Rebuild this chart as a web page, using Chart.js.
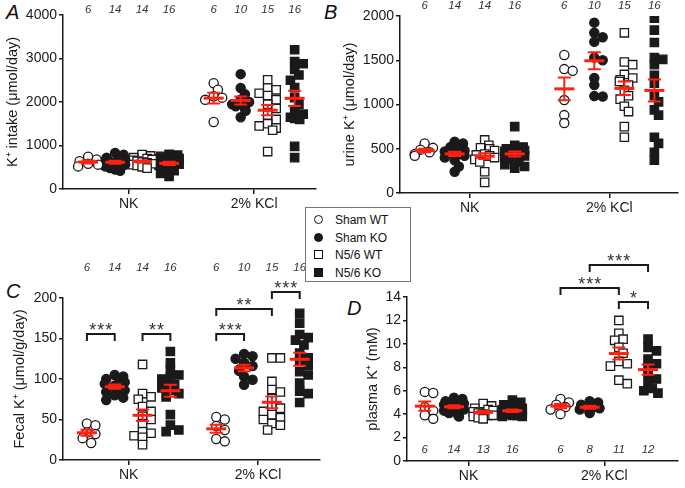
<!DOCTYPE html>
<html>
<head>
<meta charset="utf-8">
<script src="https://cdn.jsdelivr.net/npm/chart.js@4.4.0/dist/chart.umd.min.js"></script>
<style>
body { margin:0; width:685px; height:488px; background:#fff; position:relative; overflow:hidden; font-family:"Liberation Sans", Arial, sans-serif; }
canvas { position:absolute; }
.letter { position:absolute; font-style:italic; font-size:20px; color:#111; line-height:20px; }
#legend { position:absolute; left:305px; top:207px; width:106px; height:75px; border:1px solid #777; background:#fff; box-sizing:border-box; }
.row { position:absolute; left:29px; height:18px; line-height:18px; font-size:12px; color:#111; white-space:nowrap; }
.sym { position:absolute; left:-21px; top:4px; width:9px; height:9px; box-sizing:border-box; border:1.4px solid #111; }
</style>
</head>
<body>
<div class="letter" style="left:6px;top:2px">A</div>
<div class="letter" style="left:324px;top:2px">B</div>
<div class="letter" style="left:6px;top:281px">C</div>
<div class="letter" style="left:347px;top:298px">D</div>
<div id="legend"></div>
<script>
const groups = ['Sham WT', 'Sham KO', 'N5/6 WT', 'N5/6 KO']
const diets = ['NK', '2% KCl']
const groupPos = [0, 1, 2, 3, 4.65, 5.65, 6.65, 7.65]
const dietPos = [1.5, 6.15]

// A: K+ intake (µmol/day), order Sham WT, Sham KO, N5/6 WT, N5/6 KO
const intakeNK = [
    [740, 680, 640, 560, 520, 580],
    [830, 790, 720, 700, 680, 650, 620, 600, 580, 560, 520, 480, 450, 420],
    [790, 760, 720, 700, 680, 660, 640, 620, 600, 580, 560, 540, 510, 480],
    [800, 780, 750, 720, 700, 680, 650, 620, 600, 570, 540, 500, 460, 420, 360, 290]
]
const intakeKCl = [
    [2430, 2280, 2130, 2100, 2050, 1540],
    [2640, 2320, 2180, 2050, 2000, 1950, 1900, 1850, 1800, 1650],
    [2510, 2320, 2280, 2200, 2150, 2050, 1950, 1850, 1700, 1600, 1500, 1450, 1400, 1350, 860],
    [3200, 2930, 2880, 2750, 2620, 2500, 2330, 2100, 1950, 1800, 1720, 1650, 1620, 1600, 980, 720]
]

// B: urine K+ (µmol/day)
const urineNK = [
    [560, 510, 490, 460, 440, 420],
    [580, 560, 520, 500, 480, 470, 460, 450, 440, 420, 400, 370, 300, 240],
    [600, 540, 510, 500, 480, 430, 420, 440, 420, 400, 380, 350, 240, 120],
    [750, 540, 520, 500, 480, 470, 460, 450, 440, 420, 400, 380, 350, 320, 300, 280]
]
const urineKCl = [
    [1560, 1400, 1380, 1050, 880, 790],
    [1925, 1810, 1760, 1710, 1530, 1500, 1300, 1220, 1095, 1090],
    [1810, 1480, 1450, 1340, 1300, 1280, 1260, 1220, 1160, 1100, 1060, 980, 920, 750, 630],
    [1975, 1840, 1700, 1530, 1510, 1450, 1330, 1240, 1100, 1030, 940, 880, 630, 560, 460, 370]
]

// C: fecal K+ (µmol/g/day)
const fecalNK = [
    [45, 43, 34, 32, 27, 21],
    [105, 103, 100, 98, 96, 94, 92, 90, 88, 86, 84, 80, 77, 74],
    [118, 82, 78, 75, 66, 60, 54, 50, 45, 35, 33, 30, 28, 19],
    [134, 120, 111, 105, 102, 100, 97, 93, 89, 86, 82, 78, 56, 43, 37, 35]
]
const fecalKCl = [
    [53, 50, 42, 37, 26, 23],
    [131, 128, 125, 120, 116, 112, 110, 103, 99, 93],
    [126, 126, 97, 87, 84, 76, 66, 64, 60, 56, 52, 50, 45, 43, 37],
    [181, 169, 155, 151, 148, 142, 132, 126, 122, 117, 109, 105, 95, 85, 82, 71]
]

// D: plasma K+ (mM)
const plasmaNK = [
    [5.9, 5.8, 4.6, 4.3, 3.9, 3.6],
    [5.4, 5.3, 5.1, 5.0, 4.9, 4.8, 4.7, 4.6, 4.5, 4.4, 4.3, 4.1, 3.9, 3.8],
    [4.9, 4.7, 4.5, 4.4, 4.3, 4.2, 4.1, 4.0, 3.9, 3.9, 3.8, 3.7, 3.6],
    [5.2, 5.0, 4.8, 4.6, 4.5, 4.4, 4.3, 4.2, 4.2, 4.1, 4.0, 4.0, 3.9, 3.9, 3.8, 3.8]
]
const plasmaKCl = [
    [5.3, 5.0, 4.8, 4.6, 4.4, 4.0],
    [5.1, 5.0, 4.8, 4.6, 4.5, 4.4, 4.2, 4.1],
    [12.0, 10.9, 10.4, 10.3, 9.7, 9.2, 8.5, 8.3, 8.1, 6.9, 6.6],
    [10.4, 9.7, 9.4, 8.7, 8.3, 8.0, 7.4, 7.0, 6.7, 6.2, 6.0, 5.8]
]

// significance brackets: dataset index a -> b, height in axis units
const fecalSig = [
    { a: 0, b: 1, y: 155, text: '***' },
    { a: 2, b: 3, y: 155, text: '**' },
    { a: 4, b: 5, y: 155, text: '***' },
    { a: 4, b: 6, y: 186, text: '**' },
    { a: 6, b: 7, y: 207, text: '***' }
]
const plasmaSig = [
    { a: 4, b: 6, y: 14.8, text: '***' },
    { a: 5, b: 7, y: 16.7, text: '***' },
    { a: 6, b: 7, y: 13.6, text: '*' }
]

const FONT = '"Liberation Sans", Arial, sans-serif'
const RED = '#ff2010'
const INK = '#1a1a1a'

// legend
const legend = document.getElementById('legend')
groups.forEach((g, i) => {
    const row = document.createElement('div')
    row.className = 'row'
    row.style.top = (3 + i * 17.7) + 'px'
    const sym = document.createElement('span')
    sym.className = 'sym'
    sym.style.borderRadius = i < 2 ? '50%' : '0'
    sym.style.background = i % 2 ? INK : '#fff'
    row.appendChild(sym)
    row.appendChild(document.createTextNode(g))
    legend.appendChild(row)
})

// simple beeswarm so equal values sit side by side
function swarm(vals, center, pxX, pxY) {
    const diam = 8.5, maxOff = 10
    const placed = []
    const out = new Array(vals.length)
    const order = vals.map((v, i) => i).sort((a, b) => vals[b] - vals[a])
    order.forEach((i, n) => {
        const py = vals[i] * pxY
        let best = null
        for (let k = 0; k <= 6 && best === null; k++) {
            const cands = k === 0 ? [0] : [k * diam / 2, -k * diam / 2]
            for (const c of cands) {
                const dx = Math.max(-maxOff, Math.min(maxOff, c))
                if (placed.every(p => Math.hypot(p.x - dx, p.y - py) >= diam * 0.8)) { best = dx; break }
            }
        }
        if (best === null) best = ((n % 5) - 2) * maxOff / 2
        placed.push({ x: best, y: py })
        out[i] = { x: center + best / pxX, y: vals[i] }
    })
    return out
}

const meanSem = {
    id: 'meanSem',
    afterDatasetsDraw(chart) {
        const { ctx } = chart
        const x = chart.scales.x, y = chart.scales.y
        ctx.save()
        ctx.strokeStyle = RED
        chart.data.datasets.forEach(ds => {
            const v = ds.raw
            const m = v.reduce((s, a) => s + a, 0) / v.length
            const sd = Math.sqrt(v.reduce((s, a) => s + (a - m) ** 2, 0) / (v.length - 1))
            const se = sd / Math.sqrt(v.length)
            const cx = x.getPixelForValue(ds.pos)
            const ym = y.getPixelForValue(m), yt = y.getPixelForValue(m + se), yb = y.getPixelForValue(m - se)
            ctx.lineWidth = 2
            ctx.beginPath()
            ctx.moveTo(cx, yt); ctx.lineTo(cx, yb)
            ctx.moveTo(cx - 6.5, yt); ctx.lineTo(cx + 6.5, yt)
            ctx.moveTo(cx - 6.5, yb); ctx.lineTo(cx + 6.5, yb)
            ctx.stroke()
            ctx.lineWidth = 3
            ctx.beginPath()
            ctx.moveTo(cx - 10, ym); ctx.lineTo(cx + 10, ym)
            ctx.stroke()
        })
        ctx.restore()
    }
}

const extras = {
    id: 'extras',
    afterDraw(chart, args, opts) {
        const { ctx } = chart
        const x = chart.scales.x, y = chart.scales.y
        const ds = chart.data.datasets
        ctx.save()
        ctx.font = 'italic 11.5px ' + FONT
        ctx.fillStyle = '#333'
        ctx.textAlign = 'center'
        ctx.textBaseline = 'middle'
        ds.forEach(d => ctx.fillText(String(d.raw.length), x.getPixelForValue(d.pos), opts.nY))
        ctx.strokeStyle = INK
        ctx.fillStyle = '#333'
        ctx.lineWidth = 2
        ctx.font = '18px ' + FONT
        ctx.letterSpacing = '1px'
        ctx.textBaseline = 'alphabetic';
        (opts.sig || []).forEach(s => {
            const x1 = x.getPixelForValue(ds[s.a].pos), x2 = x.getPixelForValue(ds[s.b].pos)
            const yy = Math.round(y.getPixelForValue(s.y))
            ctx.beginPath()
            ctx.moveTo(x1, yy + 7); ctx.lineTo(x1, yy); ctx.lineTo(x2, yy); ctx.lineTo(x2, yy + 7)
            ctx.stroke()
            ctx.fillText(s.text, (x1 + x2) / 2 + 0.5, yy + 2)
        })
        ctx.restore()
    }
}

function makePanel(p) {
    const cv = document.createElement('canvas')
    cv.width = p.w; cv.height = p.h
    cv.style.left = p.left + 'px'; cv.style.top = p.top + 'px'
    document.body.insertBefore(cv, legend)

    const plotW = p.w - p.padR - p.yW
    const plotH = p.h - p.padT - p.xH
    const pxX = plotW / (p.xMax - p.xMin)
    const pxY = plotH / p.yMax
    const all = p.nk.concat(p.kcl)
    const datasets = all.map((vals, i) => {
        const g = i % 4
        return {
            raw: vals,
            pos: groupPos[i],
            data: swarm(vals, groupPos[i], pxX, pxY),
            pointStyle: g < 2 ? 'circle' : 'rect',
            pointRadius: g < 2 ? 4.6 : 5.9,
            backgroundColor: g % 2 ? INK : '#fff',
            borderColor: INK,
            borderWidth: 1.3
        }
    })

    new Chart(cv, {
        type: 'scatter',
        data: { datasets },
        plugins: [meanSem, extras],
        options: {
            responsive: false,
            animation: false,
            devicePixelRatio: 1,
            layout: { padding: { top: p.padT, right: p.padR, left: 0, bottom: 0 } },
            plugins: {
                legend: { display: false },
                tooltip: { enabled: false },
                extras: { nY: p.nY, sig: p.sig }
            },
            scales: {
                x: {
                    type: 'linear', min: p.xMin, max: p.xMax,
                    afterBuildTicks: s => { s.ticks = dietPos.map(v => ({ value: v })) },
                    afterFit: s => { s.height = p.xH },
                    ticks: { callback: (v, i) => diets[i], font: { family: FONT, size: 14 }, color: INK, padding: 2, maxRotation: 0, autoSkip: false },
                    grid: { drawOnChartArea: false, tickLength: 5, color: INK, lineWidth: 1.5 },
                    border: { color: INK, width: 1.5 }
                },
                y: {
                    min: 0, max: p.yMax,
                    afterFit: s => { s.width = p.yW },
                    ticks: { stepSize: p.step, callback: v => String(v), font: { family: FONT, size: 14 }, color: INK, padding: 2 },
                    grid: { drawOnChartArea: false, tickLength: 4, color: INK, lineWidth: 1.5 },
                    border: { color: INK, width: 1.5 },
                    title: { display: true, text: p.title, font: { family: FONT, size: 14.5 }, color: INK, padding: { top: p.tPad, bottom: 0 } }
                }
            }
        }
    })
}

makePanel({ left: 0, top: 0, w: 340, h: 245, padT: 15, padR: 24, yW: 63, xH: 56, xMin: -0.93, xMax: 8.44,
    yMax: 4000, step: 1000, title: 'K⁺ intake (μmol/day)', tPad: 4, nk: intakeNK, kcl: intakeKCl, nY: 10 })
makePanel({ left: 340, top: 0, w: 345, h: 245, padT: 16, padR: 3, yW: 60, xH: 52, xMin: -0.82, xMax: 8.43,
    yMax: 2000, step: 500, title: 'urine K⁺ (μmol/day)', tPad: 1, nk: urineNK, kcl: urineKCl, nY: 6 })
makePanel({ left: 0, top: 250, w: 340, h: 238, padT: 48, padR: 20, yW: 63, xH: 28, xMin: -0.86, xMax: 8.38,
    yMax: 200, step: 50, title: 'Fecal K⁺ (μmol/g/day)', tPad: 11, nk: fecalNK, kcl: fecalKCl, nY: 18, sig: fecalSig })
makePanel({ left: 340, top: 250, w: 345, h: 238, padT: 47, padR: 5, yW: 67, xH: 27, xMin: -0.61, xMax: 8.67,
    yMax: 14, step: 2, title: 'plasma K⁺ (mM)', tPad: 24, nk: plasmaNK, kcl: plasmaKCl, nY: 200, sig: plasmaSig })
</script>
</body>
</html>
